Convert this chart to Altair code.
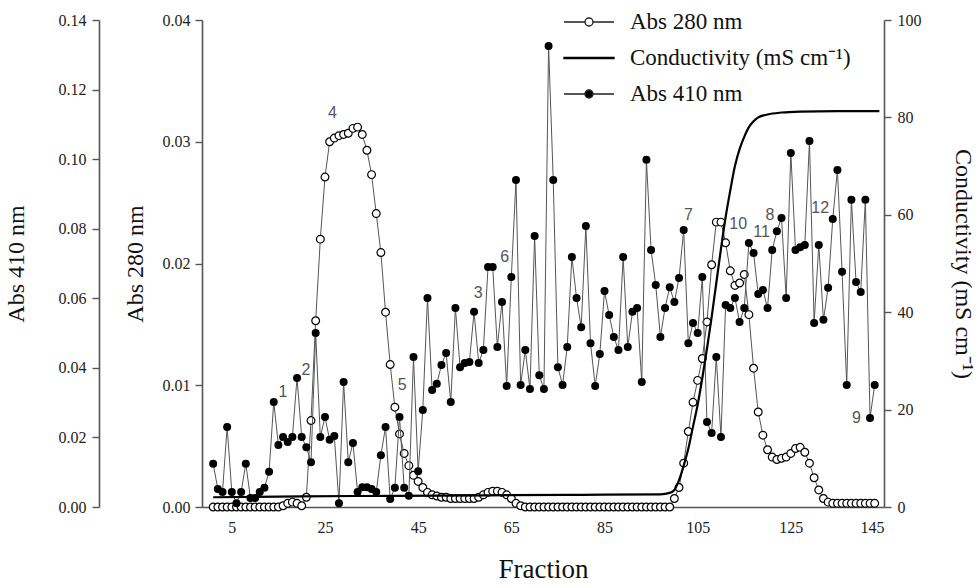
import altair as alt
import pandas as pd

# ---------------- data ----------------
fractions = list(range(1, 144))

abs280 = [
    0, 0, 0, 0, 0, 0, 0, 0, 0, 0,                                   # 1-10
    0, 0, 0, 0, 0, 0.0001, 0.0003, 0.0004, 0.0003, 0.0001,          # 11-20
    0.0008, 0.0071, 0.0153, 0.0220, 0.0271, 0.0300, 0.0303, 0.0305, 0.0306, 0.0307,  # 21-30
    0.0311, 0.0312, 0.0306, 0.0293, 0.0273, 0.0241, 0.0209, 0.0160, 0.0117, 0.0082,  # 31-40
    0.0060, 0.0044, 0.0034, 0.0026, 0.0021, 0.0016, 0.0012, 0.0010, 0.0009, 0.0008,  # 41-50
    0.0008, 0.0007, 0.0007, 0.0007, 0.0007, 0.0007, 0.0007, 0.0008, 0.0010, 0.0012,  # 51-60
    0.0013, 0.0013, 0.0012, 0.0010, 0.0007, 0.0003, 0.0001, 0, 0, 0,                # 61-70
    0, 0, 0, 0, 0, 0, 0, 0, 0, 0,                                   # 71-80
    0, 0, 0, 0, 0, 0, 0, 0, 0, 0,                                   # 81-90
    0, 0, 0, 0, 0, 0, 0, 0, 0, 0.0007,                              # 91-100
    0.0016, 0.0036, 0.0062, 0.0086, 0.0104, 0.0122, 0.0152, 0.0199, 0.0234, 0.0234,  # 101-110
    0.0217, 0.0194, 0.0182, 0.0184, 0.0191, 0.0158, 0.0114, 0.0078, 0.0059, 0.0047,  # 111-120
    0.0041, 0.0039, 0.0040, 0.0041, 0.0044, 0.0048, 0.0049, 0.0045, 0.0036, 0.0024,  # 121-130
    0.0014, 0.0007, 0.0004, 0.0003, 0.0003, 0.0003, 0.0003, 0.0003, 0.0003, 0.0003,  # 131-140
    0.0003, 0.0003, 0.0003,                                         # 141-143
]

abs410 = [
    0.0124, 0.0052, 0.0043, 0.0230, 0.0043, 0.0011, 0.0043, 0.0124, 0.0026, 0.0026,  # 1-10
    0.0043, 0.0055, 0.0101, 0.0302, 0.0178, 0.0201, 0.0187, 0.0201, 0.0371, 0.0201,  # 11-20
    0.0172, 0.0129, 0.0500, 0.0201, 0.0259, 0.0193, 0.0204, 0.0011, 0.0359, 0.0129,  # 21-30
    0.0184, 0.0043, 0.0057, 0.0057, 0.0052, 0.0043, 0.0149, 0.0230, 0.0023, 0.0055,  # 31-40
    0.0259, 0.0055, 0.0032, 0.0431, 0.0103, 0.0279, 0.0601, 0.0336, 0.0354, 0.0408,  # 41-50
    0.0443, 0.0302, 0.0572, 0.0402, 0.0414, 0.0417, 0.0561, 0.0414, 0.0451, 0.0690,  # 51-60
    0.0690, 0.0460, 0.0589, 0.0348, 0.0661, 0.0940, 0.0351, 0.0451, 0.0339, 0.0779,  # 61-70
    0.0379, 0.0339, 0.1325, 0.0940, 0.0402, 0.0351, 0.0460, 0.0719, 0.0601, 0.0517,  # 71-80
    0.0808, 0.0471, 0.0348, 0.0440, 0.0621, 0.0552, 0.0489, 0.0451, 0.0719, 0.0460,  # 81-90
    0.0561, 0.0572, 0.0359, 0.0998, 0.0739, 0.0638, 0.0489, 0.0572, 0.0632, 0.0589,  # 91-100
    0.0658, 0.0796, 0.0471, 0.0529, 0.0500, 0.0661, 0.0244, 0.0213, 0.0431, 0.0201,  # 101-110
    0.0581, 0.0572, 0.0601, 0.0532, 0.0572, 0.0759, 0.0730, 0.0612, 0.0624, 0.0572,  # 111-120
    0.0739, 0.0793, 0.0831, 0.0601, 0.1018, 0.0739, 0.0747, 0.0753, 0.1052, 0.0529,  # 121-130
    0.0753, 0.0538, 0.0630, 0.0828, 0.0969, 0.0676, 0.0351, 0.0883, 0.0647, 0.0618,  # 131-140
    0.0883, 0.0256, 0.0351,                                         # 141-143
]

cond_fraction = [1, 20, 40, 60, 80, 97, 99, 100, 101, 102, 103, 104, 105, 106, 107,
                 108, 109, 110, 111, 112, 113, 114, 115, 116, 117, 118, 120, 123,
                 127, 135, 144]
cond_value = [2.0, 2.2, 2.3, 2.4, 2.5, 2.6, 2.9, 3.5, 5.5, 8.5, 12.0, 16.5, 21.0, 26.5,
              32.5, 39.0, 46.0, 53.0, 59.5, 65.0, 70.0, 73.5, 76.0, 78.0, 79.2, 80.0,
              80.6, 81.0, 81.2, 81.3, 81.3]

label_text = ["1", "2", "3", "4", "5", "6", "7", "8", "9", "10", "11", "12"]
label_fraction = [16.0, 20.9, 57.9, 26.6, 41.6, 63.6, 103.0, 120.5, 139.1, 113.7, 118.7, 131.3]
label_value = [0.0331, 0.0394, 0.0615, 0.1133, 0.0351, 0.0719, 0.0839, 0.0839, 0.0256,
               0.0814, 0.0791, 0.0860]

series_names = ["Abs 280 nm", "Conductivity  (mS cm\u207b\u00b9)", "Abs 410 nm"]
x_ticks = [5, 25, 45, 65, 85, 105, 125, 145]
abs410_ticks = [0, 0.02, 0.04, 0.06, 0.08, 0.10, 0.12, 0.14]
abs280_ticks = [0, 0.01, 0.02, 0.03, 0.04]
cond_ticks = [0, 20, 40, 60, 80, 100]

# ---------------- tables ----------------
df = pd.DataFrame({"fraction": fractions, "abs280": abs280, "abs410": abs410})
cond_df = pd.DataFrame({"fraction": cond_fraction, "cond": cond_value,
                        "series": series_names[1]})
lab_df = pd.DataFrame({"label": label_text, "fraction": label_fraction, "pos": label_value})

SERIF = "Liberation Serif"
SANS = "Liberation Sans"
AX = dict(labelFont=SERIF, titleFont=SERIF, labelFontSize=16,
          titleFontWeight="normal", labelColor="#222", titleColor="#111",
          domainColor="#555", domainWidth=1.6, tickColor="#555", tickWidth=1.4,
          grid=False)

x_enc = alt.X("fraction:Q",
              scale=alt.Scale(domain=[-1.4, 145], nice=False, zero=False),
              axis=alt.Axis(values=x_ticks, ticks=False, labelPadding=12,
                            title="Fraction", titlePadding=21, titleFontSize=27, **AX))

y280 = alt.Y("abs280:Q", scale=alt.Scale(domain=[0, 0.04], nice=False),
             axis=alt.Axis(orient="left", values=abs280_ticks, format=".2f",
                           title="Abs 280 nm", tickSize=7, labelPadding=5,
                           titlePadding=15, titleFontSize=24, **AX))

ax410 = alt.Axis(orient="left", offset=103, values=abs410_ticks, format=".2f",
                 title="Abs 410 nm", tickSize=7, labelPadding=6, titlePadding=30,
                 titleFontSize=24, **AX)
sc410 = alt.Scale(domain=[0, 0.14], nice=False)

ycond = alt.Y("cond:Q", scale=alt.Scale(domain=[0, 100], nice=False),
              axis=alt.Axis(orient="right", values=cond_ticks,
                            title="Conductivity (mS cm\u207b\u00b9)", tickSize=7,
                            labelPadding=6, titlePadding=29, titleFontSize=24, **AX))

base = alt.Chart(df)

layer280 = alt.layer(
    base.mark_line(color="#555", strokeWidth=1).encode(x=x_enc, y=y280),
    base.mark_circle(fill="white", stroke="black", strokeWidth=1.2, size=60,
                     opacity=1).encode(x=x_enc, y=y280),
)

layer410 = alt.layer(
    base.mark_line(color="#555", strokeWidth=1).encode(
        x=x_enc, y=alt.Y("abs410:Q", scale=sc410, axis=ax410)),
    base.mark_circle(color="black", size=64, opacity=1).encode(
        x=x_enc, y=alt.Y("abs410:Q", scale=sc410, axis=ax410)),
    alt.Chart(lab_df).mark_text(font=SANS, fontSize=16, color="#555",
                                baseline="middle", align="center").encode(
        x=x_enc, y=alt.Y("pos:Q", scale=sc410, axis=ax410), text="label:N"),
)

open_path = ("M-1.56,0H-0.25M0.25,0H1.56M-0.25,0A0.25,0.25,0,1,1,0.25,0"
             "A0.25,0.25,0,1,1,-0.25,0Z")
thick_line_path = "M-1.56,-0.035H1.56V0.035H-1.56Z"

leg = alt.Legend(orient="none", legendX=370, legendY=-15, title=None,
                 symbolSize=1024, symbolStrokeColor="black", symbolStrokeWidth=1.4,
                 symbolOpacity=1, labelOffset=24, labelFontSize=23, labelFont=SERIF,
                 labelColor="#111", padding=0, rowPadding=7, labelLimit=400)

layercond = alt.layer(
    alt.Chart(cond_df).mark_line(color="black", strokeWidth=2.2,
                                 interpolate="monotone").encode(x=x_enc, y=ycond),
    alt.Chart(cond_df).transform_filter("false").mark_point(
        color="black", stroke="black", strokeWidth=1.4, opacity=1).encode(
        x=x_enc, y=ycond,
        shape=alt.Shape("series:N", scale=alt.Scale(domain=series_names,
                        range=[open_path, thick_line_path, open_path]), legend=leg),
        fill=alt.Fill("series:N", scale=alt.Scale(domain=series_names,
                      range=["white", "black", "black"]), legend=leg),
        stroke=alt.Stroke("series:N", scale=alt.Scale(domain=series_names,
                          range=["#222", "black", "#222"]), legend=leg),
    ),
)

chart = alt.layer(layer280, layer410, layercond).resolve_scale(
    y="independent"
).properties(
    width=682, height=487,
    padding={"left": 202, "top": 20, "right": 92, "bottom": 81},
    autosize=alt.AutoSizeParams(type="none"),
    background="white",
).configure_view(stroke=None)

chart.save("out.html", embed_options={"renderer": "svg", "actions": False})
